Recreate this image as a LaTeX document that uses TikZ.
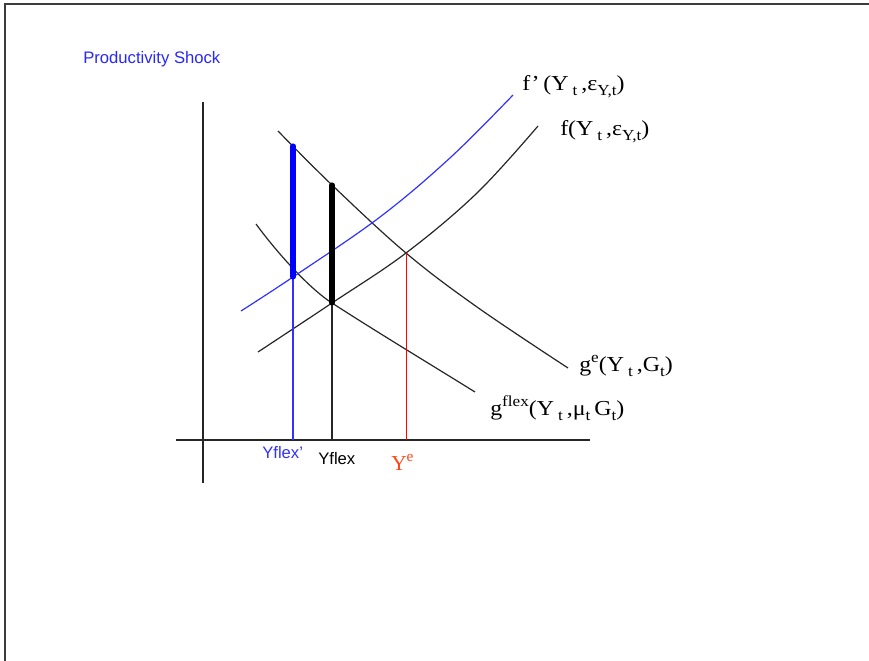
\documentclass[tikz,border=0pt]{standalone}
\usepackage{graphicx}
\usepackage{fontspec}
\setmainfont{Liberation Serif}
\setsansfont{Liberation Sans}
\definecolor{lblue}{RGB}{50,50,255}
\definecolor{txtblue}{RGB}{40,40,250}
\definecolor{yered}{RGB}{255,70,20}
\definecolor{framegray}{RGB}{60,60,60}
\newcommand{\mysub}[1]{\raisebox{-0.28em}{\fontsize{11.5}{12}\selectfont #1}}
\newcommand{\mysup}[1]{\raisebox{0.42em}{\fontsize{11.5}{12}\selectfont #1}}
\newcommand{\wide}[1]{\scalebox{1.12}[1]{#1}}
\tikzset{
  lab/.style={inner sep=0pt, anchor=base west, font=\fontsize{16}{18}\selectfont},
  slab/.style={inner sep=0pt, anchor=base west, font=\sffamily\fontsize{12.5}{15}\selectfont},
  curve/.style={line width=0.9pt, black!85},
  axis/.style={line width=1pt, black!85},
  bar/.style={line width=3.8pt, line cap=round},
  drop/.style={line width=0.9pt}
}
\begin{document}
\begin{tikzpicture}[x=0.75pt,y=-0.75pt]
\useasboundingbox (0,0) rectangle (869,661);
% frame
\draw[framegray, line width=1.2pt] (5,661) -- (5,4) -- (869,4);

% axes
\coordinate (yaxT) at (203,102);
\coordinate (yaxB) at (203,483);
\coordinate (xaxL) at (176,440);
\coordinate (xaxR) at (590,440);
\draw[axis] (yaxT) -- (yaxB);
\draw[axis] (xaxL) -- (xaxR);

% key points
\coordinate (A) at (293,277);   % f' meets gflex
\coordinate (B) at (332,303);   % f meets gflex
\coordinate (C) at (406,253);   % f meets ge
\coordinate (Atop) at (293,146);
\coordinate (Btop) at (332,185);
\coordinate (Abase) at (293,440);
\coordinate (Bbase) at (332,440);
\coordinate (Cbase) at (406,440);

% curves
\draw[curve] plot[smooth, tension=0.6] coordinates {(278,131) (332,185) (406,253) (477,307) (568,368)};
\draw[curve] (256,224) .. controls (278,254) and (310,289) .. (B)
             .. controls (380,334) and (430,364) .. (475,392);
\draw[curve] plot[smooth, tension=0.6] coordinates {(258,352) (332,303) (406,253) (477,193) (538,126)};
\draw[lblue, line width=0.9pt] plot[smooth, tension=0.6] coordinates {(241,311) (293,277) (380,217) (451,157) (513,95)};

% drop lines
\draw[lblue, drop] (A) -- (Abase);
\draw[black!85, drop] (B) -- (Bbase);
\draw[red, line width=0.7pt] (C) -- (Cbase);

% thick bars
\draw[bar, blue] (Atop) -- (A);
\draw[bar, black] (Btop) -- (B);

% labels
\node[slab, text=txtblue] (title) at (83,63) {Productivity Shock};
\node[lab] (fp) at (522,90) {\wide{f'\,(Y\,\mysub{t}\,,ε\mysub{Y,t})}};
\node[lab] (f) at (560,135) {\wide{f(Y\,\mysub{t}\,,ε\mysub{Y,t})}};
\node[lab] (ge) at (579,371) {\wide{g\mysup{e}(Y\,\mysub{t}\,,G\mysub{t})}};
\node[lab] (gf) at (490,415) {\wide{g\mysup{flex}(Y\,\mysub{t}\,,μ\mysub{t}\,G\mysub{t})}};
\node[slab, text=lblue] (yfp) at (262,458) {Yflex'};
\node[slab] (yf) at (318,464) {Yflex};
\node[lab, text=yered] (ye) at (391,470) {Y\mysup{e}};
\end{tikzpicture}
\end{document}
